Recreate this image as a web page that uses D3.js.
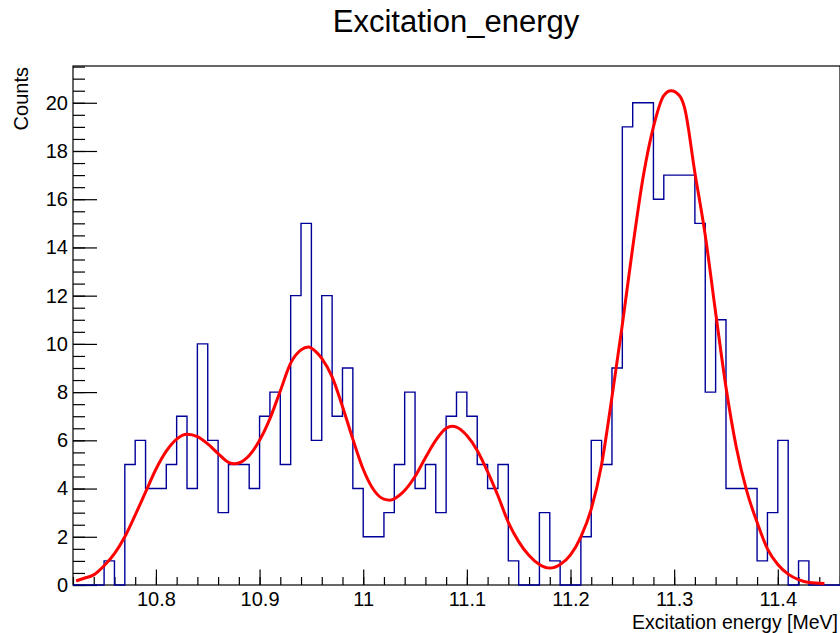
<!DOCTYPE html>
<html>
<head>
<meta charset="utf-8">
<script src="https://cdn.jsdelivr.net/npm/d3@7"></script>
<style>
    body { margin: 0; background: #fff; }
    svg { display: block; font-family: "Liberation Sans", Arial, Helvetica, sans-serif; }
    .axis path { display: none; }
    .axis line { stroke: #000; stroke-width: 1.2; }
    .axis text { font-size: 20px; fill: #000; font-family: "Liberation Sans", Arial, sans-serif; }
</style>
</head>
<body>
<div id="chart"></div>
<script>
// histogram: 74 bins of 0.01 MeV over [10.72, 11.46]
var histRange = [10.72, 11.46];
var binCounts = [0, 0, 0, 1, 0, 5, 6, 4, 4, 5,
                 7, 4, 10, 6, 3, 5, 5, 4, 7, 8,
                 5, 12, 15, 6, 12, 7, 9, 4, 2, 2,
                 3, 5, 8, 4, 5, 3, 7, 8, 7, 5,
                 4, 5, 1, 0, 0, 3, 1, 0, 0, 2,
                 6, 5, 9, 19, 20, 20, 16, 17, 17, 17,
                 15, 8, 11, 4, 4, 4, 1, 3, 6, 0,
                 1, 0, 0, 0];

// fit curve
var fitX = [10.723, 10.73, 10.74, 10.75, 10.76, 10.77, 10.78, 10.79, 10.80, 10.81,
            10.82, 10.83, 10.84, 10.85, 10.86, 10.87, 10.876, 10.88, 10.89, 10.90,
            10.91, 10.92, 10.93, 10.94, 10.947, 10.955, 10.96, 10.97, 10.98, 10.99,
            11.00, 11.01, 11.02, 11.026, 11.035, 11.05, 11.06, 11.07, 11.08, 11.086,
            11.09, 11.10, 11.11, 11.12, 11.13, 11.14, 11.15, 11.16, 11.17, 11.18,
            11.19, 11.20, 11.21, 11.22, 11.23, 11.24, 11.25, 11.26, 11.27, 11.28,
            11.29, 11.297, 11.305, 11.31, 11.32, 11.33, 11.34, 11.35, 11.36, 11.37,
            11.38, 11.39, 11.40, 11.41, 11.42, 11.43, 11.445];
var fitY = [0.17, 0.27, 0.42, 0.8, 1.3, 2.0, 2.9, 3.85, 4.8, 5.55,
            6.05, 6.25, 6.15, 5.85, 5.45, 5.09, 5.03, 5.06, 5.37, 6.0,
            6.9, 8.05, 9.2, 9.75, 9.87, 9.65, 9.4, 8.63, 7.4, 6.05,
            4.8, 3.95, 3.56, 3.52, 3.72, 4.5, 5.28, 6.0, 6.5, 6.58,
            6.55, 6.2, 5.58, 4.7, 3.7, 2.6, 1.8, 1.22, 0.85, 0.7,
            0.85, 1.25, 2.0, 3.15, 5.0, 7.8, 10.8, 14.0, 16.9, 19.0,
            20.3, 20.5, 20.3, 19.8, 17.1, 14.5, 11.3, 8.2, 5.7, 3.9,
            2.6, 1.5, 0.85, 0.45, 0.22, 0.1, 0.06];

var xTickValues = [10.8, 10.9, 11.0, 11.1, 11.2, 11.3, 11.4];
var xTickLabels = ["10.8", "10.9", "11", "11.1", "11.2", "11.3", "11.4"];
var yTickValues = [0, 2, 4, 6, 8, 10, 12, 14, 16, 18, 20];
var yTickLabels = ["0", "2", "4", "6", "8", "10", "12", "14", "16", "18", "20"];

var chartTitle = "Excitation_energy";
var xTitle = "Excitation energy [MeV]";
var yTitle = "Counts";

HistPlot = function(_parentElement) {
    var vis = this;
    vis.parentElement = _parentElement;
    vis.svgWidth = 840;
    vis.svgHeight = 633;
    vis.frame = { left: 73, top: 66, right: 840, bottom: 585 };
    vis.yMax = 21.525;

    vis.initVis();
};

HistPlot.prototype.initVis = function() {
    var vis = this;

    vis.svg = d3.select("#" + vis.parentElement).append("svg")
        .attr("width", vis.svgWidth)
        .attr("height", vis.svgHeight);

    vis.x = d3.scaleLinear()
        .domain(histRange)
        .range([vis.frame.left, vis.frame.right]);

    vis.y = d3.scaleLinear()
        .domain([0, vis.yMax])
        .range([vis.frame.bottom, vis.frame.top]);

    vis.drawAxes();
    vis.drawHist();
    vis.drawFit();
    vis.drawText();
};

HistPlot.prototype.drawAxes = function() {
    var vis = this;

    // frame
    vis.svg.append("rect")
        .attr("x", vis.frame.left)
        .attr("y", vis.frame.top)
        .attr("width", vis.frame.right - vis.frame.left)
        .attr("height", vis.frame.bottom - vis.frame.top)
        .attr("fill", "none")
        .attr("stroke", "#000")
        .attr("stroke-width", 1.2);

    // minor ticks
    var xMinor = d3.range(0, 38).map(function(i) { return +(histRange[0] + i * 0.02).toFixed(2); });
    var yMinor = d3.range(0, 44).map(function(i) { return i * 0.5; });

    vis.svg.append("g")
        .attr("class", "axis")
        .attr("transform", "translate(0," + vis.frame.bottom + ")")
        .call(d3.axisBottom(vis.x).tickValues(xMinor).tickSize(-8).tickFormat(""));

    vis.svg.append("g")
        .attr("class", "axis")
        .attr("transform", "translate(" + vis.frame.left + ",0)")
        .call(d3.axisLeft(vis.y).tickValues(yMinor).tickSize(-12).tickFormat(""));

    // major ticks + labels
    vis.svg.append("g")
        .attr("class", "axis x-axis")
        .attr("transform", "translate(0," + vis.frame.bottom + ")")
        .call(d3.axisBottom(vis.x)
            .tickValues(xTickValues)
            .tickSize(-15.5)
            .tickPadding(7)
            .tickFormat(function(d, i) { return xTickLabels[i]; }));

    vis.svg.append("g")
        .attr("class", "axis y-axis")
        .attr("transform", "translate(" + vis.frame.left + ",0)")
        .call(d3.axisLeft(vis.y)
            .tickValues(yTickValues)
            .tickSize(-24)
            .tickPadding(5)
            .tickFormat(function(d, i) { return yTickLabels[i]; }));
};

HistPlot.prototype.drawHist = function() {
    var vis = this;
    var n = binCounts.length;
    var w = (histRange[1] - histRange[0]) / n;

    var pts = binCounts.map(function(c, i) { return [histRange[0] + i * w, c]; });
    pts.push([histRange[1], binCounts[n - 1]]);

    var line = d3.line()
        .x(function(d) { return vis.x(d[0]); })
        .y(function(d) { return vis.y(d[1]); })
        .curve(d3.curveStepAfter);

    vis.svg.append("path")
        .datum(pts)
        .attr("d", line)
        .attr("fill", "none")
        .attr("stroke", "#000099")
        .attr("stroke-width", 1.4);
};

HistPlot.prototype.drawFit = function() {
    var vis = this;
    var pts = fitX.map(function(d, i) { return [d, fitY[i]]; });

    var line = d3.line()
        .x(function(d) { return vis.x(d[0]); })
        .y(function(d) { return vis.y(d[1]); })
        .curve(d3.curveMonotoneX);

    vis.svg.append("path")
        .datum(pts)
        .attr("d", line)
        .attr("fill", "none")
        .attr("stroke", "#ff0000")
        .attr("stroke-width", 3)
        .attr("stroke-linejoin", "round");
};

HistPlot.prototype.drawText = function() {
    var vis = this;

    vis.svg.append("text")
        .attr("x", 456)
        .attr("y", 32)
        .attr("text-anchor", "middle")
        .attr("font-size", "31px")
        .attr("fill", "#000")
        .text(chartTitle);

    vis.svg.append("text")
        .attr("x", 838)
        .attr("y", 629)
        .attr("text-anchor", "end")
        .attr("font-size", "19.5px")
        .attr("fill", "#000")
        .text(xTitle);

    vis.svg.append("text")
        .attr("transform", "translate(28,67) rotate(-90)")
        .attr("text-anchor", "end")
        .attr("font-size", "20px")
        .attr("fill", "#000")
        .text(yTitle);
};

var plot = new HistPlot("chart");
</script>
</body>
</html>
